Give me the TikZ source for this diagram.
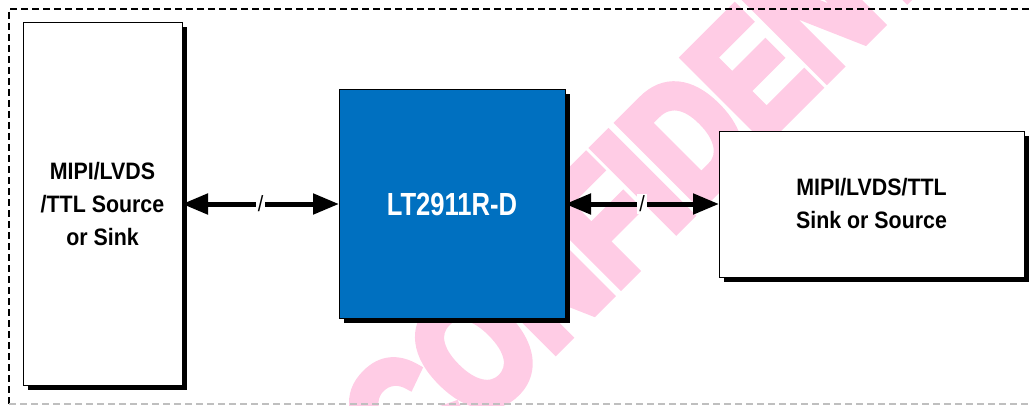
\documentclass[tikz,border=0pt]{standalone}
\usepackage{fontspec}
\usepackage{tikz}
\usetikzlibrary{arrows.meta,positioning,shadows}
\newfontfamily\boxfont[FakeStretch=0.9]{Liberation Sans}
\newfontfamily\chipfont[FakeStretch=0.8]{Liberation Sans}
\newfontfamily\markfont[FakeStretch=0.77, FakeBold=6]{Liberation Sans}
\definecolor{chipblue}{RGB}{0,112,192}
\definecolor{markpink}{RGB}{255,204,229}
\tikzstyle{block} = [rectangle, draw=black, fill=white, line width=1pt, inner sep=0pt, outer sep=0pt, align=center, font=\boxfont\bfseries\fontsize{23.75}{33}\selectfont, drop shadow={shadow xshift=4.5pt, shadow yshift=-4.5pt, fill=black, opacity=1}]
\tikzstyle{chip} = [block, fill=chipblue, text=white, font=\chipfont\bfseries\fontsize{32}{36}\selectfont]
\tikzstyle{bus} = [line width=5pt, {Triangle[length=26pt, width=20pt]}-{Triangle[length=26pt, width=20pt]}]
\tikzstyle{slash} = [fill=white, inner sep=2pt, font=\boxfont\fontsize{22}{22}\selectfont]
\tikzstyle{frame} = [line width=1.5pt, dash pattern=on 7pt off 4pt]

\begin{document}
\begin{tikzpicture}[x=1pt, y=1pt]

		\useasboundingbox (0,0) rectangle (1032,405);
		
		% watermark
		\begin{scope}
		\clip (0,0) rectangle (1032,405);
		\node (mark) [text=markpink, rotate=45, anchor=base west, inner sep=0pt, font=\markfont\bfseries\fontsize{166}{170}\selectfont] at (414,-86) {CONFIDENTIAL};
		\end{scope}
		
		\draw [frame] (1040,396) -- (9,396) -- (9,1);
		\draw [frame, draw=black!25] (9,1) -- (1040,1);
		
		\node (src) [block, minimum width=159pt, minimum height=362pt] at (102.5,201) {MIPI/LVDS\\/TTL Source\\or Sink};
		
		\node (chip) [chip, minimum width=226pt, minimum height=228pt, right = 157pt of src] {LT2911R-D};
		
		\node (sink) [block, minimum width=305pt, minimum height=146pt, right = 154pt of chip] {MIPI/LVDS/TTL\\Sink or Source};
		
		\draw [bus] (src.east) -- node[slash]{/} (chip.west);
		
		\draw [bus] (chip.east) -- node[slash]{/} (sink.west);
		
\end{tikzpicture}
\end{document}
